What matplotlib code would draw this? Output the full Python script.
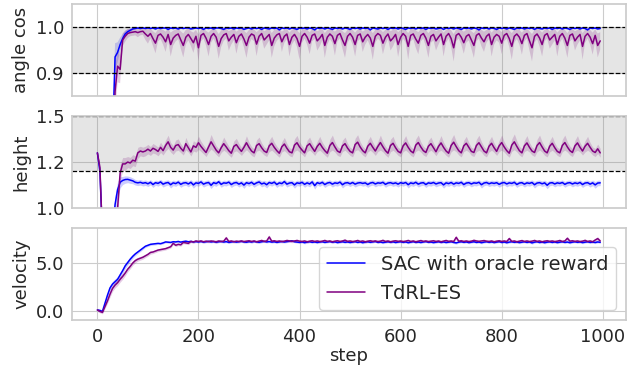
import numpy as np
import matplotlib
matplotlib.use("Agg")
import matplotlib.pyplot as plt
import seaborn as sns
from matplotlib.ticker import FormatStrFormatter

sns.set_style("whitegrid")
plt.rcParams['font.family'] = ['DejaVu Sans']

steps = list(range(0, 1000, 5))
series_labels = ["SAC with oracle reward", "TdRL-ES"]
panel_labels = ["angle cos", "height", "velocity"]
xticks = [0, 200, 400, 600, 800, 1000]

cos_sac = [
    0.30, 0.28, 0.30, 0.35, 0.45, 0.55, 0.75, 0.935, 0.945, 0.962, 0.975, 0.985, 0.990, 0.993, 0.996, 0.997, 0.998, 0.997, 0.998, 0.997,
    0.998, 0.997, 0.998, 0.996, 0.998, 0.997, 0.998, 0.998, 0.995, 0.998, 0.997, 0.998, 0.996, 0.998, 0.997, 0.998, 0.998, 0.996, 0.997, 0.998,
    0.997, 0.998, 0.995, 0.998, 0.997, 0.998, 0.996, 0.998, 0.998, 0.997, 0.995, 0.998, 0.997, 0.998, 0.996, 0.998, 0.997, 0.998, 0.995, 0.997,
    0.998, 0.996, 0.998, 0.997, 0.998, 0.995, 0.998, 0.997, 0.996, 0.998, 0.997, 0.998, 0.994, 0.998, 0.997, 0.998, 0.996, 0.998, 0.997, 0.995,
    0.998, 0.997, 0.998, 0.996, 0.998, 0.997, 0.994, 0.998, 0.997, 0.998, 0.996, 0.998, 0.997, 0.995, 0.998, 0.997, 0.998, 0.996, 0.998, 0.997,
    0.995, 0.998, 0.997, 0.998, 0.996, 0.998, 0.997, 0.998, 0.994, 0.998, 0.997, 0.996, 0.998, 0.997, 0.998, 0.995, 0.998, 0.997, 0.998, 0.996,
    0.998, 0.997, 0.995, 0.998, 0.997, 0.998, 0.996, 0.998, 0.997, 0.998, 0.995, 0.998, 0.997, 0.998, 0.996, 0.997, 0.998, 0.995, 0.998, 0.997,
    0.998, 0.996, 0.998, 0.997, 0.995, 0.998, 0.997, 0.998, 0.996, 0.998, 0.997, 0.994, 0.998, 0.997, 0.998, 0.996, 0.998, 0.997, 0.995, 0.998,
    0.997, 0.998, 0.996, 0.998, 0.997, 0.995, 0.998, 0.997, 0.998, 0.996, 0.998, 0.997, 0.998, 0.995, 0.998, 0.997, 0.996, 0.998, 0.997, 0.998,
    0.995, 0.998, 0.997, 0.998, 0.996, 0.998, 0.997, 0.995, 0.998, 0.997, 0.998, 0.996, 0.998, 0.997, 0.994, 0.998, 0.997, 0.998, 0.996, 0.997,
]
cos_sac_std = [
    0.10, 0.10, 0.10, 0.10, 0.10, 0.08, 0.06, 0.030, 0.022, 0.015, 0.010, 0.007, 0.005, 0.004, 0.003, 0.002, 0.002, 0.002, 0.002, 0.002,
    0.002, 0.002, 0.002, 0.003, 0.002, 0.002, 0.002, 0.002, 0.003, 0.002, 0.002, 0.002, 0.003, 0.002, 0.002, 0.002, 0.002, 0.003, 0.002, 0.002,
    0.002, 0.002, 0.003, 0.002, 0.002, 0.002, 0.003, 0.002, 0.002, 0.002, 0.003, 0.002, 0.002, 0.002, 0.003, 0.002, 0.002, 0.002, 0.003, 0.002,
    0.002, 0.003, 0.002, 0.002, 0.002, 0.003, 0.002, 0.002, 0.003, 0.002, 0.002, 0.002, 0.003, 0.002, 0.002, 0.002, 0.003, 0.002, 0.002, 0.003,
    0.002, 0.002, 0.002, 0.003, 0.002, 0.002, 0.003, 0.002, 0.002, 0.002, 0.003, 0.002, 0.002, 0.003, 0.002, 0.002, 0.002, 0.003, 0.002, 0.002,
    0.003, 0.002, 0.002, 0.002, 0.003, 0.002, 0.002, 0.002, 0.003, 0.002, 0.002, 0.003, 0.002, 0.002, 0.002, 0.003, 0.002, 0.002, 0.002, 0.003,
    0.002, 0.002, 0.003, 0.002, 0.002, 0.002, 0.003, 0.002, 0.002, 0.002, 0.003, 0.002, 0.002, 0.002, 0.003, 0.002, 0.002, 0.003, 0.002, 0.002,
    0.002, 0.003, 0.002, 0.002, 0.003, 0.002, 0.002, 0.002, 0.003, 0.002, 0.002, 0.003, 0.002, 0.002, 0.002, 0.003, 0.002, 0.002, 0.003, 0.002,
    0.002, 0.002, 0.003, 0.002, 0.002, 0.003, 0.002, 0.002, 0.002, 0.003, 0.002, 0.002, 0.002, 0.003, 0.002, 0.002, 0.003, 0.002, 0.002, 0.002,
    0.003, 0.002, 0.002, 0.002, 0.003, 0.002, 0.002, 0.003, 0.002, 0.002, 0.002, 0.003, 0.002, 0.002, 0.003, 0.002, 0.002, 0.002, 0.003, 0.002,
]
cos_tdrl = [
    0.30, 0.28, 0.30, 0.33, 0.40, 0.50, 0.65, 0.86, 0.915, 0.908, 0.972, 0.980, 0.986, 0.988, 0.989, 0.990, 0.988, 0.990, 0.991, 0.985,
    0.980, 0.986, 0.975, 0.965, 0.982, 0.985, 0.978, 0.968, 0.984, 0.962, 0.976, 0.982, 0.985, 0.972, 0.960, 0.978, 0.984, 0.975, 0.966, 0.980,
    0.955, 0.982, 0.986, 0.976, 0.962, 0.980, 0.986, 0.978, 0.958, 0.975, 0.983, 0.986, 0.970, 0.978, 0.984, 0.966, 0.980, 0.985, 0.974, 0.960,
    0.978, 0.985, 0.982, 0.963, 0.980, 0.986, 0.972, 0.978, 0.984, 0.960, 0.976, 0.983, 0.986, 0.968, 0.980, 0.985, 0.962, 0.978, 0.984, 0.975,
    0.958, 0.980, 0.986, 0.978, 0.965, 0.982, 0.985, 0.970, 0.976, 0.984, 0.960, 0.978, 0.985, 0.980, 0.964, 0.982, 0.986, 0.972, 0.960, 0.980,
    0.986, 0.978, 0.962, 0.982, 0.985, 0.968, 0.978, 0.984, 0.976, 0.958, 0.980, 0.986, 0.982, 0.965, 0.978, 0.985, 0.970, 0.976, 0.984, 0.962,
    0.978, 0.986, 0.980, 0.958, 0.982, 0.985, 0.974, 0.965, 0.982, 0.986, 0.976, 0.960, 0.980, 0.984, 0.970, 0.978, 0.985, 0.962, 0.980, 0.986,
    0.975, 0.955, 0.982, 0.986, 0.978, 0.966, 0.980, 0.984, 0.972, 0.960, 0.982, 0.986, 0.976, 0.968, 0.980, 0.985, 0.962, 0.978, 0.984, 0.980,
    0.965, 0.982, 0.986, 0.975, 0.958, 0.980, 0.985, 0.978, 0.964, 0.982, 0.986, 0.970, 0.955, 0.980, 0.985, 0.976, 0.962, 0.982, 0.986, 0.972,
    0.978, 0.984, 0.962, 0.980, 0.986, 0.976, 0.960, 0.982, 0.985, 0.970, 0.978, 0.984, 0.958, 0.980, 0.986, 0.978, 0.964, 0.982, 0.960, 0.970,
]
cos_tdrl_std = [
    0.10, 0.10, 0.10, 0.10, 0.10, 0.10, 0.08, 0.050, 0.035, 0.030, 0.014, 0.012, 0.010, 0.008, 0.008, 0.008, 0.010, 0.008, 0.008, 0.013,
    0.016, 0.011, 0.016, 0.022, 0.013, 0.011, 0.016, 0.022, 0.013, 0.026, 0.016, 0.013, 0.011, 0.019, 0.026, 0.016, 0.013, 0.016, 0.022, 0.014,
    0.029, 0.013, 0.011, 0.016, 0.026, 0.014, 0.011, 0.016, 0.027, 0.018, 0.013, 0.011, 0.021, 0.016, 0.013, 0.024, 0.014, 0.011, 0.018, 0.027,
    0.016, 0.011, 0.013, 0.026, 0.014, 0.011, 0.019, 0.016, 0.013, 0.027, 0.018, 0.013, 0.011, 0.022, 0.014, 0.011, 0.026, 0.016, 0.013, 0.018,
    0.029, 0.014, 0.011, 0.016, 0.024, 0.013, 0.011, 0.021, 0.018, 0.013, 0.027, 0.016, 0.011, 0.014, 0.026, 0.013, 0.011, 0.019, 0.027, 0.014,
    0.011, 0.016, 0.026, 0.013, 0.011, 0.022, 0.016, 0.013, 0.018, 0.029, 0.014, 0.011, 0.013, 0.024, 0.016, 0.011, 0.021, 0.018, 0.013, 0.027,
    0.016, 0.011, 0.014, 0.029, 0.013, 0.011, 0.019, 0.024, 0.013, 0.011, 0.018, 0.027, 0.014, 0.013, 0.021, 0.016, 0.011, 0.026, 0.014, 0.011,
    0.018, 0.030, 0.013, 0.011, 0.016, 0.024, 0.014, 0.013, 0.019, 0.027, 0.013, 0.011, 0.018, 0.022, 0.014, 0.011, 0.026, 0.016, 0.013, 0.014,
    0.024, 0.013, 0.011, 0.018, 0.029, 0.014, 0.011, 0.016, 0.024, 0.013, 0.011, 0.021, 0.030, 0.014, 0.011, 0.018, 0.026, 0.013, 0.011, 0.019,
    0.016, 0.013, 0.026, 0.014, 0.011, 0.018, 0.027, 0.013, 0.011, 0.021, 0.016, 0.013, 0.029, 0.014, 0.011, 0.016, 0.024, 0.013, 0.026, 0.019,
]

h_sac = [
    1.300, 1.200, 0.850, 0.700, 0.650, 0.700, 0.850, 1.020, 1.100, 1.140, 1.150, 1.155, 1.156, 1.152, 1.148, 1.140, 1.137, 1.140, 1.135, 1.138,
    1.132, 1.140, 1.128, 1.138, 1.134, 1.142, 1.130, 1.136, 1.139, 1.127, 1.137, 1.133, 1.141, 1.129, 1.136, 1.138, 1.131, 1.140, 1.126, 1.137,
    1.134, 1.142, 1.130, 1.136, 1.139, 1.124, 1.138, 1.133, 1.143, 1.129, 1.137, 1.135, 1.141, 1.128, 1.136, 1.139, 1.130, 1.137, 1.125, 1.138,
    1.133, 1.140, 1.129, 1.137, 1.142, 1.131, 1.136, 1.127, 1.139, 1.134, 1.141, 1.128, 1.137, 1.133, 1.144, 1.130, 1.136, 1.138, 1.126, 1.137,
    1.134, 1.140, 1.129, 1.137, 1.131, 1.142, 1.122, 1.138, 1.133, 1.140, 1.128, 1.136, 1.139, 1.130, 1.137, 1.134, 1.141, 1.127, 1.136, 1.138,
    1.132, 1.139, 1.130, 1.136, 1.138, 1.134, 1.137, 1.128, 1.136, 1.139, 1.131, 1.137, 1.135, 1.140, 1.129, 1.136, 1.138, 1.133, 1.137, 1.130,
    1.138, 1.134, 1.139, 1.127, 1.137, 1.133, 1.140, 1.130, 1.136, 1.138, 1.128, 1.137, 1.134, 1.139, 1.131, 1.136, 1.138, 1.126, 1.137, 1.133,
    1.139, 1.130, 1.137, 1.134, 1.140, 1.128, 1.136, 1.138, 1.131, 1.137, 1.135, 1.140, 1.127, 1.136, 1.139, 1.132, 1.137, 1.134, 1.138, 1.129,
    1.136, 1.139, 1.131, 1.137, 1.134, 1.140, 1.128, 1.136, 1.138, 1.130, 1.137, 1.134, 1.139, 1.127, 1.136, 1.138, 1.132, 1.137, 1.124, 1.136,
    1.138, 1.131, 1.137, 1.134, 1.139, 1.129, 1.136, 1.138, 1.131, 1.137, 1.133, 1.139, 1.128, 1.136, 1.138, 1.130, 1.137, 1.126, 1.136, 1.137,
]
h_sac_std = [
    0.010, 0.020, 0.050, 0.050, 0.050, 0.050, 0.050, 0.050, 0.045, 0.030, 0.022, 0.020, 0.018, 0.018, 0.016, 0.015, 0.015, 0.015, 0.015, 0.015,
    0.015, 0.014, 0.016, 0.014, 0.015, 0.014, 0.016, 0.015, 0.014, 0.018, 0.015, 0.015, 0.014, 0.016, 0.015, 0.014, 0.016, 0.014, 0.018, 0.015,
    0.015, 0.014, 0.016, 0.015, 0.014, 0.018, 0.015, 0.015, 0.014, 0.016, 0.015, 0.015, 0.014, 0.016, 0.015, 0.014, 0.016, 0.015, 0.018, 0.014,
    0.015, 0.014, 0.016, 0.015, 0.014, 0.016, 0.015, 0.018, 0.014, 0.015, 0.014, 0.016, 0.015, 0.015, 0.014, 0.016, 0.015, 0.014, 0.018, 0.015,
    0.015, 0.014, 0.016, 0.015, 0.016, 0.014, 0.019, 0.014, 0.015, 0.014, 0.016, 0.015, 0.014, 0.016, 0.015, 0.015, 0.014, 0.018, 0.015, 0.014,
    0.015, 0.014, 0.016, 0.015, 0.014, 0.015, 0.015, 0.016, 0.015, 0.014, 0.016, 0.015, 0.015, 0.014, 0.016, 0.015, 0.014, 0.015, 0.015, 0.016,
    0.014, 0.015, 0.014, 0.018, 0.015, 0.015, 0.014, 0.016, 0.015, 0.014, 0.016, 0.015, 0.015, 0.014, 0.016, 0.015, 0.014, 0.018, 0.015, 0.015,
    0.014, 0.016, 0.015, 0.015, 0.014, 0.016, 0.015, 0.014, 0.016, 0.015, 0.015, 0.014, 0.018, 0.015, 0.014, 0.015, 0.015, 0.015, 0.014, 0.016,
    0.015, 0.014, 0.016, 0.015, 0.015, 0.014, 0.016, 0.015, 0.014, 0.016, 0.015, 0.015, 0.014, 0.018, 0.015, 0.014, 0.015, 0.015, 0.019, 0.015,
    0.014, 0.016, 0.015, 0.015, 0.014, 0.016, 0.015, 0.014, 0.016, 0.015, 0.015, 0.014, 0.016, 0.015, 0.014, 0.016, 0.015, 0.018, 0.015, 0.015,
]
h_tdrl = [
    1.300, 1.220, 0.850, 0.700, 0.620, 0.600, 0.650, 0.800, 1.000, 1.190, 1.240, 1.240, 1.250, 1.245, 1.260, 1.255, 1.300, 1.310, 1.305, 1.310,
    1.320, 1.310, 1.325, 1.318, 1.308, 1.330, 1.312, 1.340, 1.360, 1.330, 1.315, 1.340, 1.345, 1.325, 1.310, 1.350, 1.328, 1.305, 1.338, 1.330,
    1.355, 1.335, 1.318, 1.302, 1.332, 1.360, 1.338, 1.315, 1.300, 1.328, 1.350, 1.332, 1.312, 1.298, 1.335, 1.345, 1.325, 1.308, 1.330, 1.355,
    1.330, 1.310, 1.300, 1.340, 1.350, 1.328, 1.310, 1.302, 1.338, 1.352, 1.330, 1.312, 1.298, 1.333, 1.348, 1.325, 1.306, 1.300, 1.342, 1.355,
    1.332, 1.315, 1.300, 1.338, 1.350, 1.328, 1.308, 1.335, 1.352, 1.330, 1.312, 1.298, 1.340, 1.356, 1.332, 1.310, 1.302, 1.338, 1.350, 1.326,
    1.308, 1.300, 1.345, 1.358, 1.332, 1.312, 1.300, 1.336, 1.352, 1.330, 1.310, 1.335, 1.356, 1.333, 1.312, 1.298, 1.340, 1.352, 1.328, 1.308,
    1.300, 1.338, 1.354, 1.330, 1.310, 1.300, 1.342, 1.356, 1.332, 1.312, 1.302, 1.336, 1.350, 1.328, 1.306, 1.335, 1.354, 1.330, 1.310, 1.298,
    1.340, 1.358, 1.334, 1.312, 1.300, 1.338, 1.352, 1.330, 1.308, 1.302, 1.340, 1.355, 1.332, 1.310, 1.300, 1.336, 1.352, 1.328, 1.308, 1.338,
    1.356, 1.332, 1.312, 1.298, 1.342, 1.360, 1.335, 1.312, 1.300, 1.338, 1.354, 1.330, 1.310, 1.302, 1.340, 1.356, 1.332, 1.310, 1.300, 1.336,
    1.352, 1.328, 1.308, 1.300, 1.340, 1.356, 1.332, 1.312, 1.302, 1.338, 1.354, 1.330, 1.310, 1.336, 1.352, 1.330, 1.310, 1.302, 1.322, 1.300,
]
h_tdrl_std = [
    0.010, 0.020, 0.050, 0.050, 0.050, 0.050, 0.050, 0.050, 0.050, 0.045, 0.035, 0.035, 0.030, 0.030, 0.030, 0.030, 0.030, 0.026, 0.026, 0.026,
    0.026, 0.024, 0.026, 0.024, 0.024, 0.028, 0.024, 0.030, 0.036, 0.026, 0.024, 0.030, 0.031, 0.024, 0.022, 0.034, 0.024, 0.022, 0.028, 0.026,
    0.036, 0.028, 0.024, 0.022, 0.028, 0.040, 0.030, 0.024, 0.022, 0.026, 0.036, 0.028, 0.024, 0.022, 0.030, 0.034, 0.026, 0.022, 0.026, 0.038,
    0.028, 0.024, 0.022, 0.031, 0.036, 0.026, 0.022, 0.022, 0.031, 0.038, 0.028, 0.024, 0.022, 0.028, 0.036, 0.026, 0.022, 0.022, 0.034, 0.040,
    0.028, 0.024, 0.022, 0.031, 0.036, 0.026, 0.022, 0.028, 0.038, 0.028, 0.024, 0.022, 0.034, 0.041, 0.028, 0.024, 0.022, 0.031, 0.036, 0.026,
    0.022, 0.022, 0.034, 0.041, 0.028, 0.024, 0.022, 0.031, 0.038, 0.028, 0.024, 0.028, 0.041, 0.028, 0.024, 0.022, 0.034, 0.038, 0.026, 0.022,
    0.022, 0.031, 0.040, 0.028, 0.024, 0.022, 0.034, 0.041, 0.028, 0.024, 0.022, 0.031, 0.036, 0.026, 0.022, 0.028, 0.040, 0.028, 0.024, 0.022,
    0.034, 0.042, 0.028, 0.024, 0.022, 0.031, 0.038, 0.026, 0.022, 0.022, 0.034, 0.041, 0.028, 0.024, 0.022, 0.031, 0.038, 0.026, 0.022, 0.031,
    0.041, 0.028, 0.024, 0.022, 0.034, 0.043, 0.030, 0.024, 0.022, 0.031, 0.040, 0.026, 0.022, 0.022, 0.034, 0.041, 0.028, 0.024, 0.022, 0.031,
    0.038, 0.026, 0.022, 0.022, 0.034, 0.041, 0.028, 0.024, 0.022, 0.031, 0.040, 0.026, 0.022, 0.031, 0.038, 0.026, 0.022, 0.022, 0.026, 0.024,
]

v_sac = [
    0.10, 0.05, -0.05, 0.80, 1.65, 2.40, 2.80, 3.05, 3.30, 3.75, 4.20, 4.70, 5.05, 5.40, 5.70, 5.95, 6.15, 6.35, 6.55, 6.75,
    6.85, 6.95, 6.98, 7.00, 7.05, 7.02, 7.10, 7.20, 7.18, 7.15, 7.22, 7.20, 7.25, 7.18, 7.24, 7.28, 7.22, 7.26, 7.20, 7.24,
    7.20, 7.25, 7.18, 7.22, 7.26, 7.20, 7.24, 7.17, 7.22, 7.25, 7.19, 7.23, 7.15, 7.20, 7.24, 7.18, 7.22, 7.26, 7.20, 7.17,
    7.23, 7.19, 7.25, 7.21, 7.16, 7.22, 7.26, 7.20, 7.24, 7.18, 7.22, 7.15, 7.20, 7.25, 7.19, 7.23, 7.28, 7.32, 7.22, 7.18,
    7.15, 7.20, 7.12, 7.18, 7.22, 7.16, 7.20, 7.14, 7.19, 7.22, 7.15, 7.20, 7.24, 7.17, 7.21, 7.13, 7.18, 7.22, 7.16, 7.20,
    7.14, 7.19, 7.23, 7.15, 7.20, 7.12, 7.18, 7.22, 7.16, 7.20, 7.25, 7.15, 7.19, 7.13, 7.18, 7.22, 7.16, 7.21, 7.14, 7.19,
    7.22, 7.16, 7.20, 7.12, 7.18, 7.23, 7.15, 7.19, 7.14, 7.20, 7.24, 7.16, 7.19, 7.13, 7.18, 7.22, 7.15, 7.20, 7.14, 7.18,
    7.22, 7.15, 7.10, 7.18, 7.22, 7.16, 7.20, 7.13, 7.18, 7.22, 7.15, 7.19, 7.12, 7.18, 7.22, 7.16, 7.20, 7.14, 7.19, 7.23,
    7.15, 7.19, 7.12, 7.18, 7.22, 7.16, 7.20, 7.13, 7.18, 7.22, 7.15, 7.20, 7.10, 7.18, 7.22, 7.14, 7.19, 7.12, 7.18, 7.21,
    7.15, 7.20, 7.13, 7.18, 7.22, 7.15, 7.19, 7.12, 7.18, 7.22, 7.16, 7.20, 7.13, 7.18, 7.22, 7.15, 7.19, 7.14, 7.20, 7.16,
]
v_sac_std = [
    0.15, 0.15, 0.15, 0.20, 0.25, 0.30, 0.30, 0.30, 0.30, 0.30, 0.30, 0.28, 0.25, 0.22, 0.20, 0.18, 0.16, 0.15, 0.14, 0.13,
    0.12, 0.12, 0.11, 0.11, 0.10, 0.11, 0.10, 0.10, 0.11, 0.10, 0.10, 0.11, 0.10, 0.10, 0.11, 0.10, 0.10, 0.11, 0.10, 0.10,
    0.10, 0.11, 0.10, 0.10, 0.11, 0.10, 0.10, 0.11, 0.10, 0.10, 0.11, 0.10, 0.12, 0.10, 0.10, 0.11, 0.10, 0.10, 0.11, 0.10,
    0.10, 0.11, 0.10, 0.10, 0.12, 0.10, 0.10, 0.11, 0.10, 0.10, 0.11, 0.10, 0.10, 0.11, 0.10, 0.10, 0.12, 0.12, 0.10, 0.10,
    0.11, 0.10, 0.12, 0.10, 0.10, 0.11, 0.10, 0.12, 0.10, 0.10, 0.11, 0.10, 0.10, 0.11, 0.10, 0.12, 0.10, 0.10, 0.11, 0.10,
    0.12, 0.10, 0.10, 0.11, 0.10, 0.12, 0.10, 0.10, 0.11, 0.10, 0.10, 0.11, 0.10, 0.12, 0.10, 0.10, 0.11, 0.10, 0.12, 0.10,
    0.10, 0.11, 0.10, 0.12, 0.10, 0.10, 0.11, 0.10, 0.12, 0.10, 0.10, 0.11, 0.10, 0.12, 0.10, 0.10, 0.11, 0.10, 0.12, 0.10,
    0.10, 0.11, 0.13, 0.10, 0.10, 0.11, 0.10, 0.12, 0.10, 0.10, 0.11, 0.10, 0.12, 0.10, 0.10, 0.11, 0.10, 0.12, 0.10, 0.10,
    0.11, 0.10, 0.12, 0.10, 0.10, 0.11, 0.10, 0.12, 0.10, 0.10, 0.11, 0.10, 0.13, 0.10, 0.10, 0.11, 0.10, 0.12, 0.10, 0.10,
    0.11, 0.10, 0.12, 0.10, 0.10, 0.11, 0.10, 0.12, 0.10, 0.10, 0.11, 0.10, 0.12, 0.10, 0.10, 0.11, 0.10, 0.12, 0.10, 0.11,
]
v_tdrl = [
    0.10, -0.05, -0.15, 0.45, 1.05, 1.75, 2.35, 2.70, 2.95, 3.30, 3.60, 3.95, 4.35, 4.65, 5.00, 5.25, 5.40, 5.50, 5.60, 5.75,
    5.90, 6.10, 6.15, 6.25, 6.35, 6.40, 6.45, 6.50, 6.60, 6.70, 7.05, 6.85, 6.95, 6.90, 7.15, 7.10, 7.05, 7.25, 7.20, 7.30,
    7.25, 7.30, 7.22, 7.28, 7.24, 7.30, 7.26, 7.22, 7.30, 7.25, 7.28, 7.62, 7.25, 7.30, 7.22, 7.28, 7.25, 7.30, 7.24, 7.28,
    7.32, 7.25, 7.30, 7.22, 7.28, 7.35, 7.26, 7.30, 7.72, 7.28, 7.32, 7.25, 7.30, 7.24, 7.28, 7.35, 7.30, 7.26, 7.30, 7.35,
    7.28, 7.25, 7.30, 7.22, 7.28, 7.32, 7.25, 7.30, 7.24, 7.28, 7.35, 7.26, 7.30, 7.22, 7.28, 7.32, 7.25, 7.30, 7.38, 7.26,
    7.30, 7.24, 7.28, 7.35, 7.25, 7.30, 7.22, 7.28, 7.32, 7.26, 7.30, 7.24, 7.28, 7.36, 7.25, 7.30, 7.22, 7.28, 7.32, 7.26,
    7.30, 7.24, 7.28, 7.35, 7.25, 7.30, 7.22, 7.28, 7.34, 7.26, 7.30, 7.24, 7.28, 7.32, 7.25, 7.30, 7.22, 7.28, 7.35, 7.26,
    7.30, 7.24, 7.68, 7.28, 7.32, 7.25, 7.30, 7.24, 7.28, 7.36, 7.30, 7.26, 7.30, 7.34, 7.28, 7.25, 7.30, 7.22, 7.28, 7.32,
    7.25, 7.30, 7.24, 7.55, 7.26, 7.30, 7.22, 7.28, 7.34, 7.25, 7.30, 7.24, 7.28, 7.35, 7.26, 7.30, 7.22, 7.28, 7.32, 7.26,
    7.30, 7.24, 7.28, 7.35, 7.25, 7.30, 7.58, 7.28, 7.32, 7.26, 7.30, 7.24, 7.28, 7.36, 7.25, 7.30, 7.22, 7.40, 7.55, 7.30,
]
v_tdrl_std = [
    0.15, 0.15, 0.15, 0.20, 0.25, 0.30, 0.30, 0.30, 0.30, 0.30, 0.30, 0.28, 0.26, 0.25, 0.24, 0.22, 0.20, 0.20, 0.20, 0.18,
    0.18, 0.18, 0.16, 0.16, 0.15, 0.15, 0.15, 0.14, 0.14, 0.14, 0.15, 0.14, 0.13, 0.14, 0.13, 0.13, 0.14, 0.13, 0.13, 0.14,
    0.13, 0.14, 0.13, 0.13, 0.14, 0.13, 0.13, 0.14, 0.13, 0.13, 0.14, 0.20, 0.13, 0.14, 0.13, 0.13, 0.14, 0.13, 0.13, 0.14,
    0.13, 0.14, 0.13, 0.13, 0.14, 0.15, 0.13, 0.14, 0.22, 0.13, 0.14, 0.13, 0.13, 0.14, 0.13, 0.15, 0.13, 0.14, 0.13, 0.15,
    0.13, 0.14, 0.13, 0.13, 0.14, 0.15, 0.13, 0.14, 0.13, 0.13, 0.15, 0.13, 0.14, 0.13, 0.13, 0.15, 0.13, 0.14, 0.16, 0.13,
    0.14, 0.13, 0.13, 0.15, 0.13, 0.14, 0.13, 0.13, 0.15, 0.13, 0.14, 0.13, 0.13, 0.16, 0.13, 0.14, 0.13, 0.13, 0.15, 0.13,
    0.14, 0.13, 0.13, 0.15, 0.13, 0.14, 0.13, 0.13, 0.15, 0.13, 0.14, 0.13, 0.13, 0.15, 0.13, 0.14, 0.13, 0.13, 0.15, 0.13,
    0.14, 0.13, 0.22, 0.13, 0.15, 0.13, 0.14, 0.13, 0.13, 0.16, 0.14, 0.13, 0.14, 0.15, 0.13, 0.13, 0.14, 0.13, 0.13, 0.15,
    0.13, 0.14, 0.13, 0.20, 0.13, 0.14, 0.13, 0.13, 0.15, 0.13, 0.14, 0.13, 0.13, 0.15, 0.13, 0.14, 0.13, 0.13, 0.15, 0.13,
    0.14, 0.13, 0.13, 0.15, 0.13, 0.14, 0.20, 0.13, 0.15, 0.13, 0.14, 0.13, 0.13, 0.16, 0.13, 0.14, 0.13, 0.16, 0.20, 0.14,
]

# reference bands (target regions)
cos_band = [0.9, 1.0]
height_band = [1.2, 1.5]

x = np.array(steps)
colors = ["#0000ff", "#800080"]

fig = plt.figure(figsize=(6.41, 3.70), dpi=100)
gs = fig.add_gridspec(3, 1, left=0.1125, right=0.9766, top=0.989, bottom=0.135, hspace=0.217)
axes = [fig.add_subplot(gs[i]) for i in range(3)]

panels = [
    (cos_sac, cos_sac_std, cos_tdrl, cos_tdrl_std),
    (h_sac, h_sac_std, h_tdrl, h_tdrl_std),
    (v_sac, v_sac_std, v_tdrl, v_tdrl_std),
]

for ax, (m1, s1, m2, s2), lab in zip(axes, panels, panel_labels):
    for m, s, c, name in [(m1, s1, colors[0], series_labels[0]), (m2, s2, colors[1], series_labels[1])]:
        m = np.array(m); s = np.array(s)
        ax.fill_between(x, m - s, m + s, color=c, alpha=0.2, linewidth=0)
        ax.plot(x, m, color=c, linewidth=1.1, label=name)
    ax.set_ylabel(lab, fontsize=13, color="#262626")
    ax.set_xlim(-50, 1046)
    ax.set_xticks(xticks)
    ax.tick_params(labelsize=13, colors="#262626", pad=2)
    ax.yaxis.set_major_formatter(FormatStrFormatter('%.1f'))
    for sp in ax.spines.values():
        sp.set_color('#cccccc')
        sp.set_linewidth(1.25)

# top panel
axes[0].axhspan(cos_band[0], cos_band[1], color='gray', alpha=0.2, linewidth=0)
for v in cos_band:
    axes[0].axhline(v, color='k', linestyle='--', linewidth=0.9)
axes[0].set_ylim(0.85, 1.05)
axes[0].set_yticks([0.9, 1.0])

# middle panel
axes[1].axhspan(height_band[0], height_band[1], color='gray', alpha=0.2, linewidth=0)
for v in height_band:
    axes[1].axhline(v, color='k', linestyle='--', linewidth=0.9)
axes[1].set_ylim(1.0, 1.5)
axes[1].set_yticks([1.0, 1.25, 1.5])

# bottom panel
axes[2].set_ylim(-0.95, 8.65)
axes[2].set_yticks([0.0, 5.0])
axes[2].set_xlabel("step", fontsize=13, color="#262626", labelpad=1)
axes[2].legend(loc='lower right', fontsize=14, frameon=True)

for ax in axes[:2]:
    ax.tick_params(labelbottom=False)

fig.align_ylabels(axes)
fig.savefig("out.png", dpi=100)
